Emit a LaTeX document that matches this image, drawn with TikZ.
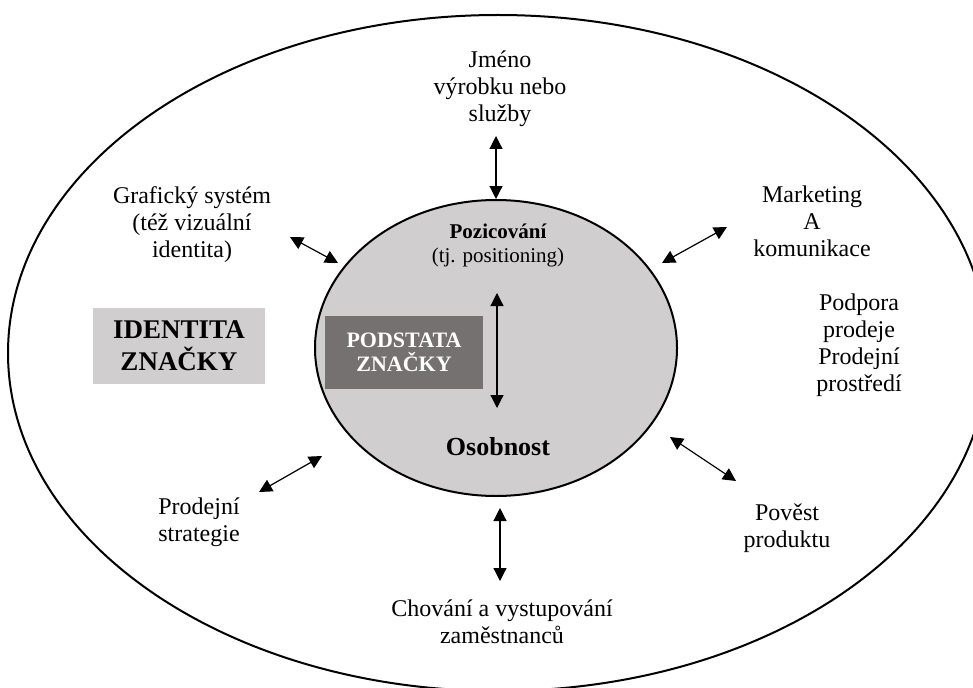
\documentclass[tikz,border=0pt]{standalone}
\usepackage{fontspec}
\setmainfont{Liberation Serif}
\usepackage{xcolor}
\usetikzlibrary{arrows.meta,shapes.geometric}
\definecolor{lightgrey}{HTML}{D0CECE}
\definecolor{darkgrey}{HTML}{767171}

\begin{document}
\begin{tikzpicture}[
  x=1pt,y=-1pt,
  label/.style={align=center, inner sep=0pt,
                font=\fontsize{24}{27}\selectfont},
  ring/.style={draw=black, line width=2pt, ellipse, inner sep=0pt},
  greybox/.style={fill=lightgrey, align=center, inner sep=0pt,
                  minimum width=172pt, minimum height=76pt,
                  font=\fontsize{27}{32}\selectfont\bfseries},
  corebox/.style={fill=darkgrey, text=white, align=center, inner sep=0pt,
                  minimum width=158pt, minimum height=73pt,
                  font=\fontsize{22}{24}\selectfont\bfseries},
  arr/.style={{Triangle[length=13pt,width=13pt]}-{Triangle[length=13pt,width=13pt]},
              line width=1.2pt, draw=black}
]
\useasboundingbox (0,0) rectangle (973,687);
\clip (0,0) rectangle (973,687);

\node[ring, minimum width=980pt, minimum height=676pt] (identity) at (498,353) {};
\node[ring, fill=lightgrey, minimum width=362pt, minimum height=296pt] (core) at (496,348) {};

\node[greybox] (idbox) at (179,346) {IDENTITA\\ZNAČKY};
\node[corebox] (essence) at (404,352) {PODSTATA\\ZNAČKY};

\node[inner sep=0pt, font=\fontsize{21}{24}\selectfont\bfseries] (posit) at (498,231) {Pozicování};
\node[inner sep=0pt, font=\fontsize{21}{24}\selectfont] (positen) at (498,257) {(tj. positioning)};
\node[inner sep=0pt, font=\fontsize{26}{30}\selectfont\bfseries] (person) at (498,447) {Osobnost};

\node[label] (name) at (500,89) {Jméno\\výrobku nebo\\služby};
\node[label] (graphic) at (192,225) {Grafický systém\\(též vizuální\\identita)};
\node[label] (marketing) at (812,221) {Marketing\\A\\komunikace};
\node[label] (support) at (859,345) {Podpora\\prodeje\\Prodejní\\prostředí};
\node[label] (reput) at (787,528) {Pověst\\produktu};
\node[label] (strategy) at (199,522) {Prodejní\\strategie};
\node[label] (staff) at (502,622) {Chování a vystupování\\zaměstnanců};

\coordinate (nameA) at (496,136);
\coordinate (inA) at (497,293);
\coordinate (inB) at (497,408);
\coordinate (graphA) at (290,237);
\coordinate (graphB) at (338,263);
\coordinate (markA) at (662,263);
\coordinate (markB) at (727,227);
\coordinate (reputA) at (670,437);
\coordinate (reputB) at (736,481);
\coordinate (stratA) at (259,492);
\coordinate (stratB) at (322,456);
\coordinate (staffA) at (500,508);
\coordinate (staffB) at (500,581);

\draw[arr] (nameA) -- (core.north);
\draw[arr] (inA) -- (inB);
\draw[arr] (graphA) -- (graphB);
\draw[arr] (markA) -- (markB);
\draw[arr] (reputA) -- (reputB);
\draw[arr] (stratA) -- (stratB);
\draw[arr] (staffA) -- (staffB);

\end{tikzpicture}
\end{document}
